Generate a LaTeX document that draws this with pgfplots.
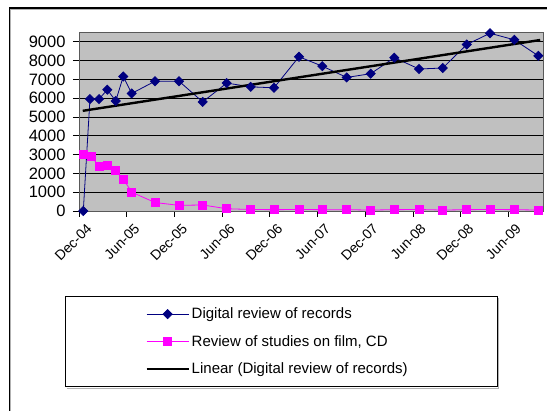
\documentclass[border=0pt]{standalone}
\usepackage{fontspec}
\setmainfont{Liberation Sans}
\usepackage{pgfplots}
\pgfplotsset{compat=1.18}
\definecolor{plotbg}{RGB}{192,192,192}
\definecolor{navyblue}{RGB}{0,0,128}
\definecolor{pinkm}{RGB}{255,0,255}
\begin{document}
\begin{tikzpicture}[x=1pt,y=1pt]
\useasboundingbox (0,0) rectangle (547,411);
\draw[gray!60, line width=1pt] (10.8,0) -- (10.8,401.8) -- (547,401.8);
\draw[black, line width=1.1pt] (9.5,0) -- (9.5,403) -- (547,403);
\begin{axis}[
  at={(79pt,200pt)}, anchor=south west,
  scale only axis, width=464pt, height=178.7pt,
  xmin=0, xmax=58.36, ymin=0, ymax=9500,
  clip=false,
  axis background/.style={fill=plotbg},
  axis line style={draw=gray!70!black, line width=0.9pt},
  ymajorgrids, major grid style={black, line width=0.8pt},
  ytick={0,1000,...,9000},
  xtick={0,6,...,54},
  xticklabels={Dec-04,Jun-05,Dec-05,Jun-06,Dec-06,Jun-07,Dec-07,Jun-08,Dec-08,Jun-09},
  tick align=outside, major tick length=6pt,
  tick style={black, line width=0.8pt},
  xtick pos=left, ytick pos=left,
  scaled y ticks=false,
  /pgf/number format/assume math mode=true,
  /pgf/number format/1000 sep={},
  yticklabel style={font=\fontsize{16.5}{18}\selectfont, xshift=-4pt},
  xticklabel style={font=\fontsize{14}{16}\selectfont, rotate=45, anchor=east, xshift=4pt, yshift=-14pt},
  legend style={draw=none, fill=none, at={(axis description cs:0.4278,-0.7303)}, anchor=center,
    font=\fontsize{15}{18}\selectfont, row sep=11pt, cells={anchor=west}},
  legend image code/.code={\draw[mark repeat=2,mark phase=2,#1] plot coordinates {(0pt,0pt) (21pt,0pt) (42pt,0pt)};},
]
\addplot[navyblue, line width=0.8pt, mark=square*, mark size=3.2pt,
  mark options={rotate=45, fill=navyblue, draw=navyblue}] coordinates {
  (0.54,0) (1.38,5950) (2.52,5950) (3.56,6450) (4.62,5850) (5.57,7150) (6.63,6250)
  (9.56,6900) (12.58,6900) (15.56,5800) (18.58,6800) (21.6,6600) (24.53,6550)
  (27.67,8200) (30.6,7700) (33.67,7100) (36.69,7300) (39.66,8150) (42.77,7550)
  (45.75,7600) (48.77,8850) (51.7,9450) (54.75,9100) (57.77,8250)};
\addlegendentry{Digital review of records}
\addplot[pinkm, line width=0.8pt, mark=square*, mark size=4pt,
  mark options={fill=pinkm, draw=pinkm}] coordinates {
  (0.54,3000) (1.6,2900) (2.52,2350) (3.56,2400) (4.62,2150) (5.57,1700) (6.63,1000)
  (9.56,450) (12.58,300) (15.56,320) (18.58,120) (21.6,80) (24.53,70)
  (27.67,80) (30.6,70) (33.67,70) (36.69,50) (39.66,70) (42.77,80)
  (45.75,50) (48.77,70) (51.7,80) (54.75,70) (57.77,50)};
\addlegendentry{Review of studies on film, CD}
\addplot[black, line width=2.4pt] coordinates {(0.47,5325) (58,9090)};
\addlegendentry{Linear (Digital review of records)}
\end{axis}
\draw[gray!60, line width=1pt] (66.5,22.5) -- (498.5,22.5) -- (498.5,112.5);
\draw[black, line width=1pt] (65,24) rectangle (497,114);
\end{tikzpicture}
\end{document}
